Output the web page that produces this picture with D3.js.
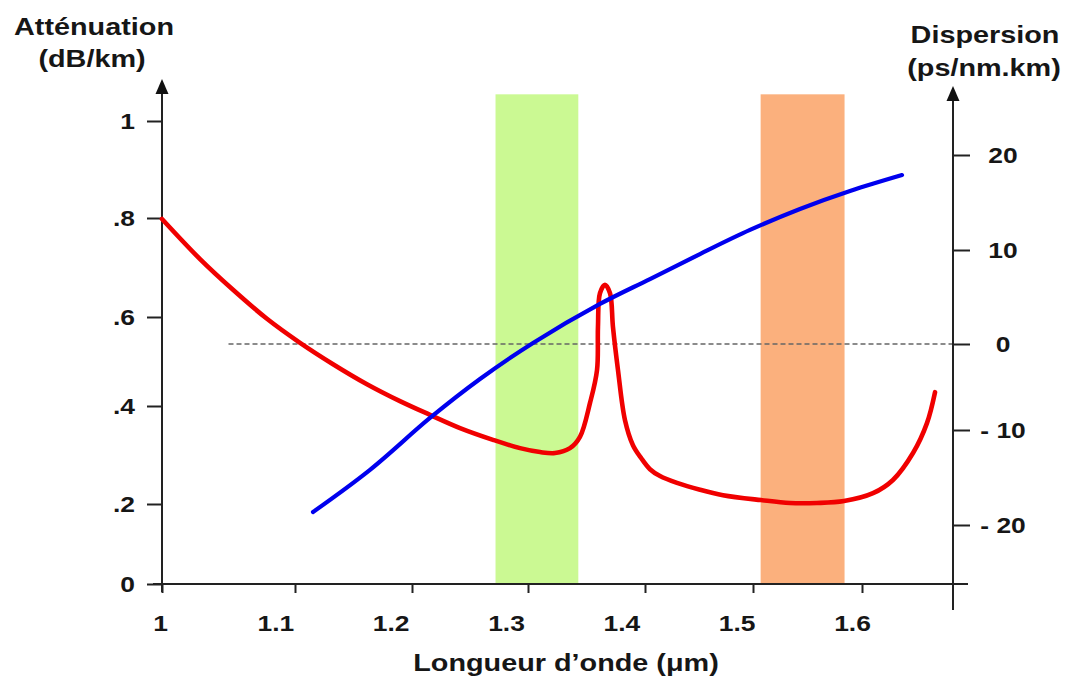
<!DOCTYPE html>
<html><head><meta charset="utf-8">
<script src="https://cdn.jsdelivr.net/npm/d3@7"></script>
<style>
body{margin:0;background:#fff}
svg{display:block}
text{font-family:"Liberation Sans",Arial,sans-serif;font-weight:bold;fill:#161616}
</style>
</head><body>
<svg id="c" width="1071" height="678"></svg>
<script>
// ---------------- data ----------------
const wavelengthTicks = [1.0, 1.1, 1.2, 1.3, 1.4, 1.5, 1.6];
const wavelengthTickLabels = ["1", "1.1", "1.2", "1.3", "1.4", "1.5", "1.6"];
const attenTicks = [0, 0.2, 0.4, 0.6, 0.8, 1.0];
const attenTickLabels = ["0", ".2", ".4", ".6", ".8", "1"];
const dispTicks = [-20, -10, 0, 10, 20];
const dispTickLabels = ["- 20", "- 10", "0", "10", "20"];

// attenuation curve (dB/km) vs wavelength (µm)
const attenWavelength = [1.0,1.0286,1.0534,1.0789,1.1043,1.1325,1.1615,1.1897,1.2155,1.2414,1.2698,1.2931,1.3103,1.3231,1.3359,1.3444,1.3530,1.3590,1.3598,1.3615,1.3658,1.3701,1.3726,1.3769,1.3829,1.3897,1.3966,1.4046,1.4139,1.4296,1.4509,1.4722,1.5073,1.5339,1.5587,1.5835,1.6101,1.6284,1.6468,1.6596,1.6670];
const attenValues = [0.798,0.717,0.655,0.596,0.542,0.494,0.449,0.411,0.382,0.355,0.331,0.314,0.306,0.304,0.314,0.337,0.407,0.481,0.578,0.648,0.665,0.648,0.578,0.481,0.371,0.320,0.294,0.271,0.257,0.243,0.229,0.218,0.208,0.202,0.202,0.206,0.222,0.249,0.304,0.365,0.431];

// dispersion curve (ps/nm.km) vs wavelength (µm)
const dispWavelength = [1.1154,1.1641,1.2155,1.2586,1.3043,1.3615,1.4046,1.4509,1.4972,1.5431,1.5890,1.6367];
const dispValues = [-18.63,-14.19,-8.60,-4.07,0.11,4.26,6.91,9.57,12.11,14.32,16.21,17.89];

// transmission windows (µm)
const windowStart = [1.272, 1.507];
const windowEnd = [1.343, 1.584];
const windowColors = ["#cbf993", "#fbb07d"];
const windowTop = 1.055; // in attenuation units

const zeroLineStart = 1.05;

// ---------------- layout ----------------
const svg = d3.select("#c");
const axisY = 584, leftX = 162, rightX = 953;

const x = d3.scaleLinear().domain(wavelengthTicks).range([162, 295, 412, 528, 645, 753, 862]);
const xLabel = d3.scaleLinear().domain([1.0, 1.6]).range([160, 852]);
const yL = d3.scaleLinear().domain(attenTicks).range([584, 504, 406, 317, 218, 121]);
const yR = d3.scaleLinear().domain(dispTicks).range([525, 430, 344, 250, 155]);

// windows
svg.append("g").selectAll("rect").data(windowStart).join("rect")
  .attr("x", d => x(d))
  .attr("width", (d, i) => x(windowEnd[i]) - x(d))
  .attr("y", yL(windowTop))
  .attr("height", yL(0) - yL(windowTop))
  .attr("fill", (d, i) => windowColors[i]);

// zero dispersion line
svg.append("line")
  .attr("x1", x(zeroLineStart)).attr("x2", rightX)
  .attr("y1", yR(0)).attr("y2", yR(0))
  .attr("stroke", "#666").attr("stroke-width", 1.5).attr("stroke-dasharray", "5,3");

const axisColor = "#222";
function styleTicks(g) {
  g.select(".domain").remove();
  g.selectAll(".tick line").attr("stroke", axisColor).attr("stroke-width", 2);
  g.selectAll(".tick text").attr("font-size", 22).attr("fill", "#161616")
    .attr("font-family", "Liberation Sans, Arial, sans-serif").attr("font-weight", "bold");
}

// bottom ticks
const gxT = svg.append("g").attr("transform", `translate(0,${axisY})`)
  .call(d3.axisBottom(x).tickValues(wavelengthTicks).tickSize(9).tickFormat(""));
styleTicks(gxT);
// bottom labels
const gxL = svg.append("g").attr("transform", `translate(0,${axisY})`)
  .call(d3.axisBottom(xLabel).tickValues(wavelengthTicks).tickSize(0).tickPadding(31)
    .tickFormat((d, i) => wavelengthTickLabels[i]));
styleTicks(gxL);
gxL.selectAll(".tick text").each(function () {
  const t = d3.select(this);
  const yy = t.attr("y");
  t.attr("y", 0).attr("transform", `translate(0,${yy}) scale(1.2,1)`);
});

// left axis
const gy = svg.append("g").attr("transform", `translate(${leftX},0)`)
  .call(d3.axisLeft(yL).tickValues(attenTicks).tickSize(15)
    .tickFormat((d, i) => attenTickLabels[i]));
styleTicks(gy);
gy.selectAll(".tick text").attr("x", 0).attr("text-anchor", "end")
  .attr("transform", "translate(-27,0) scale(1.2,1)");

// right axis
const gr = svg.append("g").attr("transform", `translate(${rightX},0)`)
  .call(d3.axisRight(yR).tickValues(dispTicks).tickSize(17)
    .tickFormat((d, i) => dispTickLabels[i]));
styleTicks(gr);
gr.selectAll(".tick text").attr("x", 0).attr("text-anchor", "middle")
  .attr("transform", "translate(50,0) scale(1.2,1)");

// axis lines + arrows
svg.append("line").attr("x1", 153).attr("x2", 968).attr("y1", axisY).attr("y2", axisY)
  .attr("stroke", axisColor).attr("stroke-width", 2);
svg.append("line").attr("x1", leftX).attr("x2", leftX).attr("y1", 592).attr("y2", 90)
  .attr("stroke", axisColor).attr("stroke-width", 2);
svg.append("line").attr("x1", rightX).attr("x2", rightX).attr("y1", 610).attr("y2", 97)
  .attr("stroke", axisColor).attr("stroke-width", 2);
svg.append("path").attr("d", `M${leftX},79 L${leftX - 6.5},94 L${leftX + 6.5},94 Z`).attr("fill", "#111");
svg.append("path").attr("d", `M${rightX},86 L${rightX - 6.5},101 L${rightX + 6.5},101 Z`).attr("fill", "#111");

// curves
const attenData = attenWavelength.map((w, i) => [w, attenValues[i]]);
const dispData = dispWavelength.map((w, i) => [w, dispValues[i]]);

svg.append("path").datum(attenData)
  .attr("d", d3.line().x(d => x(d[0])).y(d => yL(d[1])).curve(d3.curveCatmullRom.alpha(0.5)))
  .attr("fill", "none").attr("stroke", "#f00000").attr("stroke-width", 4.6)
  .attr("stroke-linecap", "round").attr("stroke-linejoin", "round");

svg.append("path").datum(dispData)
  .attr("d", d3.line().x(d => x(d[0])).y(d => yR(d[1])).curve(d3.curveCatmullRom.alpha(0.5)))
  .attr("fill", "none").attr("stroke", "#0000ee").attr("stroke-width", 4.2)
  .attr("stroke-linecap", "round").attr("stroke-linejoin", "round");

// titles
function title(txt, cx, by) {
  svg.append("text").text(txt).attr("text-anchor", "middle").attr("font-size", 24)
    .attr("transform", `translate(${cx},${by}) scale(1.2,1)`);
}
title("Atténuation", 94, 35);
title("(dB/km)", 92, 67);
title("Dispersion", 985, 43);
title("(ps/nm.km)", 984, 76);
title("Longueur d’onde (μm)", 566, 671);
</script>
</body></html>
